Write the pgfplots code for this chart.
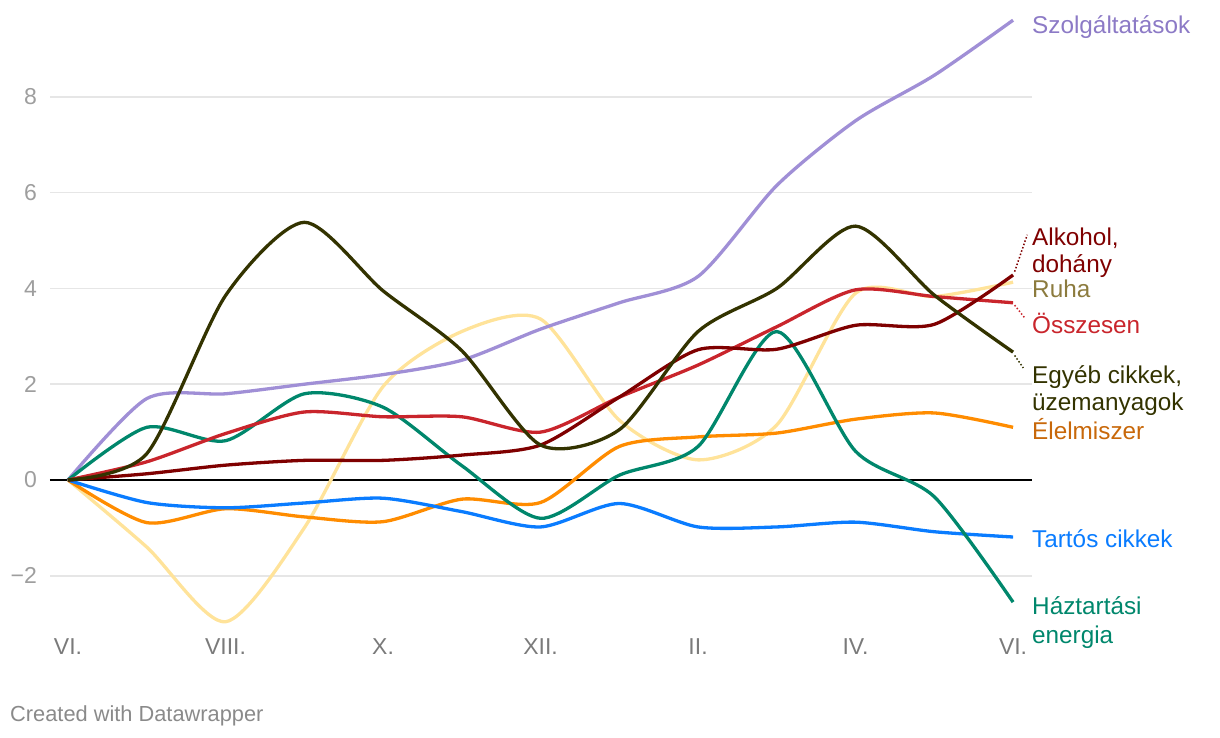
\documentclass[border=0pt]{standalone}
\usepackage{fontspec}
\setmainfont{Liberation Sans}
\usepackage{pgfplots}
\usepackage{pgfplotstable}
\pgfplotsset{compat=1.18}
\definecolor{cSzolg}{HTML}{A08FD6}
\definecolor{cSzolgL}{HTML}{8C7AC6}
\definecolor{cEgyeb}{HTML}{333300}
\definecolor{cTartos}{HTML}{0A7CFF}
\definecolor{cElelm}{HTML}{FF8C00}
\definecolor{cElelmL}{HTML}{C8680A}
\definecolor{cHazt}{HTML}{00876C}
\definecolor{cOssz}{HTML}{C9252C}
\definecolor{cAlk}{HTML}{7F0000}
\definecolor{cRuha}{HTML}{FFE39A}
\definecolor{cRuhaL}{HTML}{8C7B3E}
\definecolor{cGrid}{HTML}{E6E6E6}
\definecolor{cYT}{HTML}{9E9E9E}
\definecolor{cXT}{HTML}{7A7A7A}
\definecolor{cFoot}{HTML}{8A8A8A}

\pgfplotstableread{
x szolg egyeb tartos elelm hazt ossz alk ruha
0  0     0     0      0     0     0     0     0
1  1.70  0.55 -0.47  -0.89  1.10  0.38  0.13 -1.40
2  1.80  3.85 -0.58  -0.60  0.82  0.97  0.31 -2.96
3  2.00  5.38 -0.48  -0.77  1.80  1.42  0.41 -1.00
4  2.20  3.95 -0.38  -0.87  1.52  1.32  0.41  1.95
5  2.50  2.70 -0.66  -0.40  0.30  1.32  0.52  3.10
6  3.15  0.73 -0.98  -0.47 -0.80  1.00  0.73  3.36
7  3.70  1.05 -0.49   0.70  0.10  1.73  1.73  1.25
8  4.25  3.10 -0.98   0.90  0.70  2.40  2.72  0.42
9  6.15  4.00 -0.98   0.98  3.10  3.20  2.73  1.15
10 7.50  5.30 -0.88   1.27  0.60  3.97  3.23  3.90
11 8.45  3.86 -1.08   1.40 -0.35  3.83  3.25  3.83
12 9.60  2.67 -1.19   1.10 -2.55  3.70  4.28  4.13
}\data

\begin{document}
\begin{tikzpicture}[x=1pt,y=1pt]
\path (0,0) rectangle (1220,738);
\node[anchor=base west, inner sep=0pt, text=cFoot, font=\fontsize{21.8}{24}\selectfont] at (10,16) {Created with Datawrapper};
\begin{axis}[
  at={(50pt,109.5pt)}, anchor=south west,
  scale only axis, width=982pt, height=615.5pt,
  xmin=-0.2286, xmax=12.2405, ymin=-3.1, ymax=9.75,
  axis line style={draw=none},
  major tick length=0pt,
  ytick={-2,0,2,4,6,8}, yticklabels={−2,0,2,4,6,8},
  xtick={0,2,4,6,8,10,12}, xticklabels={VI.,VIII.,X.,XII.,II.,IV.,VI.},
  ymajorgrids, grid style={draw=cGrid, line width=1.5pt},
  yticklabel style={text=cYT, font=\fontsize{23}{24}\selectfont, inner sep=0pt, anchor=east, xshift=-13pt},
  xticklabel style={text=cXT, font=\fontsize{23}{24}\selectfont, inner sep=0pt, anchor=north, yshift=-9.5pt},
  clip=false,
  every axis plot/.append style={line width=3.3pt, smooth, tension=0.45, no markers},
]
\draw[black, line width=1.8pt] (axis cs:-0.2286,0) -- (axis cs:12.2405,0);
\addplot[cRuha] table[x=x,y=ruha]{\data};
\addplot[cSzolg] table[x=x,y=szolg]{\data};
\addplot[cElelm] table[x=x,y=elelm]{\data};
\addplot[cTartos] table[x=x,y=tartos]{\data};
\addplot[cHazt] table[x=x,y=hazt]{\data};
\addplot[cOssz] table[x=x,y=ossz]{\data};
\addplot[cAlk] table[x=x,y=alk]{\data};
\addplot[cEgyeb] table[x=x,y=egyeb]{\data};

\draw[cAlk, line width=1.5pt, dotted] (axis cs:12.02,4.35) -- (axis cs:12.18,5.12);
\draw[cOssz, line width=1.5pt, dotted] (axis cs:12.02,3.65) -- (axis cs:12.15,3.38);
\draw[cEgyeb, line width=1.5pt, dotted] (axis cs:12.02,2.60) -- (axis cs:12.13,2.34);

\begin{scope}[every node/.style={anchor=base west, inner sep=0pt, font=\fontsize{24.3}{27}\selectfont}]
\node[text=cSzolgL] at (axis cs:12.2405,9.33) {Szolgáltatások};
\node[text=cAlk] at (axis cs:12.2405,4.906) {Alkohol,};
\node[text=cAlk] at (axis cs:12.2405,4.342) {dohány};
\node[text=cRuhaL] at (axis cs:12.2405,3.82) {Ruha};
\node[text=cOssz] at (axis cs:12.2405,3.069) {Összesen};
\node[text=cEgyeb] at (axis cs:12.2405,2.025) {Egyéb cikkek,};
\node[text=cEgyeb] at (axis cs:12.2405,1.461) {üzemanyagok};
\node[text=cElelmL] at (axis cs:12.2405,0.856) {Élelmiszer};
\node[text=cTartos] at (axis cs:12.2405,-1.399) {Tartós cikkek};
\node[text=cHazt] at (axis cs:12.2405,-2.818) {Háztartási};
\node[text=cHazt] at (axis cs:12.2405,-3.403) {energia};
\end{scope}
\end{axis}
\end{tikzpicture}
\end{document}
